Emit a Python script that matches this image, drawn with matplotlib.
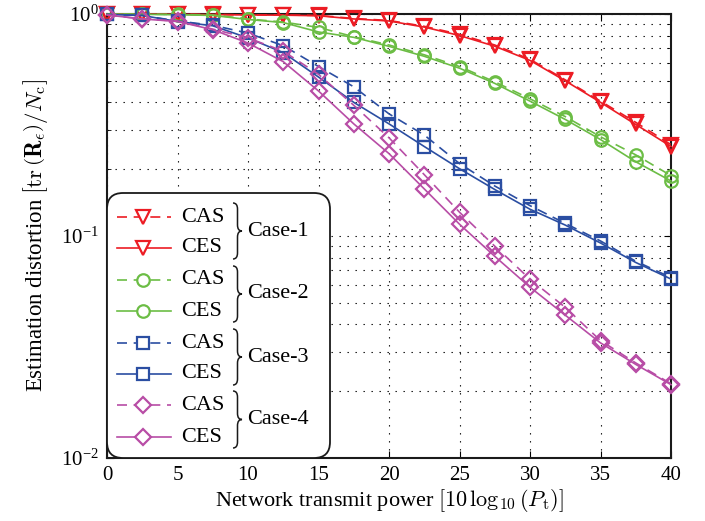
import numpy as np
import matplotlib
matplotlib.use("Agg")
import matplotlib.pyplot as plt
from matplotlib.patches import FancyBboxPatch, PathPatch
from matplotlib.path import Path
from matplotlib.lines import Line2D
from matplotlib.ticker import LogLocator, LogFormatterMathtext, MultipleLocator, NullFormatter

plt.rcParams['font.family'] = ['Liberation Serif', 'DejaVu Serif']
plt.rcParams['mathtext.fontset'] = 'cm'

# ---------------- data ----------------
power_db = [0, 2.5, 5, 7.5, 10, 12.5, 15, 17.5, 20, 22.5, 25, 27.5, 30, 32.5, 35, 37.5, 40]

case1_cas = [1.0, 1.0, 0.998, 0.995, 0.992, 0.99, 0.985, 0.955, 0.935, 0.88, 0.81, 0.725, 0.625, 0.505, 0.405, 0.325, 0.258]
case1_ces = [1.0, 1.0, 0.997, 0.994, 0.99, 0.988, 0.982, 0.95, 0.93, 0.873, 0.80, 0.716, 0.618, 0.50, 0.40, 0.318, 0.253]

case2_cas = [1.0, 0.998, 0.995, 0.99, 0.95, 0.92, 0.87, 0.79, 0.725, 0.655, 0.58, 0.495, 0.415, 0.345, 0.28, 0.232, 0.187]
case2_ces = [1.0, 0.997, 0.993, 0.985, 0.945, 0.915, 0.83, 0.785, 0.715, 0.645, 0.57, 0.487, 0.405, 0.335, 0.272, 0.216, 0.177]

case3_cas = [0.995, 0.985, 0.93, 0.89, 0.82, 0.72, 0.58, 0.47, 0.355, 0.285, 0.212, 0.168, 0.137, 0.114, 0.095, 0.077, 0.065]
case3_ces = [0.995, 0.985, 0.925, 0.885, 0.78, 0.67, 0.52, 0.40, 0.32, 0.253, 0.201, 0.162, 0.132, 0.112, 0.093, 0.076, 0.064]

case4_cas = [0.99, 0.95, 0.93, 0.855, 0.78, 0.68, 0.535, 0.388, 0.277, 0.189, 0.128, 0.090, 0.0639, 0.0477, 0.0338, 0.0268, 0.0216]
case4_ces = [0.99, 0.95, 0.925, 0.85, 0.74, 0.61, 0.45, 0.32, 0.235, 0.163, 0.113, 0.081, 0.0588, 0.044, 0.0330, 0.0264, 0.0214]

case_names = ['Case-1', 'Case-2', 'Case-3', 'Case-4']
scheme_names = ['CAS', 'CES']
colors = ['#EC1C24', '#6CBD45', '#2B4EA2', '#B84DA6']
markers = ['v', 'o', 's', 'D']
msizes = [10, 9, 9, 8]

series = [(case1_cas, case1_ces), (case2_cas, case2_ces), (case3_cas, case3_ces), (case4_cas, case4_ces)]

# ---------------- figure ----------------
fig = plt.figure(figsize=(7.05, 5.21), dpi=100)
ax = fig.add_axes([107/705, (521-458)/521, 564/705, 444/521])

dash = (0, (6, 4))
for (cas, ces), c, m, ms in zip(series, colors, markers, msizes):
    ax.plot(power_db, cas, linestyle=dash, color=c, lw=1.2, marker=m, ms=ms,
            mfc='none', mec=c, mew=1.6, clip_on=False, zorder=3)
    ax.plot(power_db, ces, linestyle='-', color=c, lw=1.2, marker=m, ms=ms,
            mfc='none', mec=c, mew=1.6, clip_on=False, zorder=3)

ax.set_yscale('log')
ax.set_xlim(0, 40)
ax.set_ylim(1e-2, 1)
ax.xaxis.set_major_locator(MultipleLocator(5))
ax.yaxis.set_major_locator(LogLocator(base=10))
ax.yaxis.set_minor_locator(LogLocator(base=10, subs=np.arange(2, 10)))
ax.yaxis.set_major_formatter(LogFormatterMathtext())
ax.yaxis.set_minor_formatter(NullFormatter())

ax.tick_params(which='both', direction='in', top=True, right=True)
ax.tick_params(axis='x', which='major', labelsize=15, pad=6)
ax.tick_params(axis='y', which='major', labelsize=15, pad=6)
ax.tick_params(which='major', length=5, width=0.8)
ax.tick_params(which='minor', length=3, width=0.6)

gridstyle = dict(color='black', linestyle=(0, (1.2, 6)), linewidth=0.8)
ax.grid(True, which='major', axis='both', **gridstyle)
ax.grid(True, which='minor', axis='y', **gridstyle)
ax.set_axisbelow(True)

for s in ax.spines.values():
    s.set_linewidth(1.5)
    s.set_color('#1a1a1a')

ax.set_xlabel(r'Network transmit power $\left[10\,\log_{10}(P_{\mathrm{t}})\right]$', fontsize=16, labelpad=1)
ax.set_ylabel(r'Estimation distortion $\left[\mathrm{tr}\,\left(\mathbf{R}_{\epsilon}\right)/N_{\mathrm{c}}\right]$',
              fontsize=16.5, labelpad=8)

# ---------------- legend (manual, in axes fraction) ----------------
AXW, AXH = 564.0, 444.0
def ax_x(px):
    return (px - 107) / AXW
def ax_y(py):
    return (458 - py) / AXH

box = FancyBboxPatch((0, 0), ax_x(330), ax_y(193),
                     boxstyle='round,pad=0,rounding_size=%f' % (16/AXW),
                     mutation_aspect=AXW/AXH,
                     transform=ax.transAxes, facecolor='white', edgecolor='#1a1a1a',
                     lw=1.3, zorder=10, clip_on=False)
ax.add_patch(box)

row_py = [217, 248, 280, 311, 343, 374, 405, 437]
styles = [dash, '-']
for i, (c, m, ms) in enumerate(zip(colors, markers, msizes)):
    for j in range(2):
        py = row_py[2*i + j]
        y = ax_y(py)
        ax.add_line(Line2D([ax_x(117), ax_x(171)], [y, y], transform=ax.transAxes,
                           color=c, lw=1.2, linestyle=styles[j], zorder=11, clip_on=False))
        ax.add_line(Line2D([ax_x(143)], [y], transform=ax.transAxes, color=c, marker=m,
                           ms=ms, mfc='white', mec=c, mew=1.6, linestyle='none', zorder=12,
                           clip_on=False))
        ax.text(ax_x(181), y, scheme_names[j], transform=ax.transAxes, fontsize=16,
                ha='left', va='center', zorder=12)
    # brace
    top = row_py[2*i] - 14
    bot = row_py[2*i+1] + 11
    mid = (top + bot) / 2
    x0, w, r = 233, 9, 6
    pts = [(x0, top), (x0 + w/2, top), (x0 + w/2, top + r),
           (x0 + w/2, mid - r), (x0 + w/2, mid), (x0 + w, mid),
           (x0 + w/2, mid), (x0 + w/2, mid + r),
           (x0 + w/2, bot - r), (x0 + w/2, bot), (x0, bot)]
    codes = [Path.MOVETO, Path.CURVE3, Path.CURVE3,
             Path.LINETO, Path.CURVE3, Path.CURVE3,
             Path.CURVE3, Path.CURVE3,
             Path.LINETO, Path.CURVE3, Path.CURVE3]
    verts = [(ax_x(px), ax_y(py)) for px, py in pts]
    ax.add_patch(PathPatch(Path(verts, codes), transform=ax.transAxes, facecolor='none',
                           edgecolor='#1a1a1a', lw=1.1, zorder=12, clip_on=False))
    ax.text(ax_x(247), ax_y(mid), case_names[i], transform=ax.transAxes, fontsize=16,
            ha='left', va='center', zorder=12)

fig.savefig('out.png', dpi=100)
